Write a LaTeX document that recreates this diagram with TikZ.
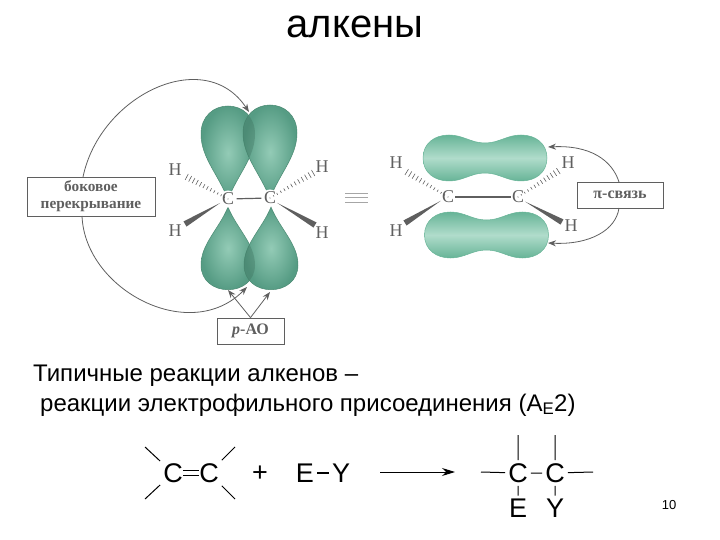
\documentclass[tikz,border=0pt]{standalone}
\usepackage{fontspec}
\setmainfont{Liberation Sans}
\newfontfamily\bookfont{Liberation Serif}
\usetikzlibrary{calc,arrows.meta}
\newcommand{\lobepath}{(0,0) .. controls (-9,-25) and (-27,-42) .. (-27,-66) .. controls (-27,-84) and (-14,-94) .. (0,-94) .. controls (14,-94) and (27,-84) .. (27,-66) .. controls (27,-42) and (9,-25) .. (0,0) -- cycle}
\newcommand{\barpath}{(-62,0) .. controls (-62,-15) and (-50,-23) .. (-36,-23) .. controls (-22,-23) and (-14,-15) .. (0,-15) .. controls (14,-15) and (22,-23) .. (36,-23) .. controls (50,-23) and (62,-15) .. (62,0) .. controls (62,15) and (50,23) .. (36,23) .. controls (22,23) and (14,15) .. (0,15) .. controls (-14,15) and (-22,23) .. (-36,23) .. controls (-50,23) and (-62,15) .. (-62,0) -- cycle}
\definecolor{orbdark}{HTML}{569C84}
\definecolor{orblight}{HTML}{93CBB6}
\definecolor{orbline}{HTML}{4A8A72}
\definecolor{bardark}{HTML}{67B497}
\definecolor{barlight}{HTML}{B0DCCB}
\definecolor{bookgray}{HTML}{5F5F5F}
\tikzset{
  lobe/.style={draw=orbline,line width=0.5pt,inner color=orblight,outer color=orbdark},
  orbbar/.style={draw=bardark,line width=0.5pt,top color=bardark,bottom color=bardark,middle color=barlight},
  overlap/.style={fill=orbline!80!black,opacity=0.35},
  atom/.style={font=\bookfont\fontsize{18}{18}\selectfont,text=bookgray,inner sep=1pt},
  label/.style={draw=bookgray,line width=0.8pt,fill=white,align=center,text=bookgray,font=\bookfont\bfseries\fontsize{15.3}{17}\selectfont},
  book/.style={draw=bookgray,line width=0.8pt},
  bookarrow/.style={book,-{Stealth[length=8pt,width=6pt]}},
  wedge/.style={fill=bookgray},
  sym/.style={font=\fontsize{27}{27}\selectfont,inner sep=3pt},
  bond/.style={draw=black,line width=1pt}
}
\newcommand{\hashbond}[2]{\foreach \t in {0,0.08,...,1.01}{\pgfmathsetmacro{\w}{0.5+3*\t}\draw[bookgray,line width=0.6pt] ($(#1)!\t!(#2)!\w pt!90:(#2)$) -- ($(#1)!\t!(#2)!\w pt!-90:(#2)$);}}
\newcommand{\wedgebond}[2]{\fill[wedge] (#1) -- ($(#2)!3pt!90:(#1)$) -- ($(#2)!3pt!-90:(#1)$) -- cycle;}
\begin{document}
\begin{tikzpicture}[x=1pt,y=-1pt]
  \useasboundingbox (0,0) rectangle (720,540);
  \node[font=\fontsize{40}{40}\selectfont] (title) at (355,27) {алкены};
  % p orbitals
  \path[lobe,shift={(228,200)}] \lobepath;
  \path[lobe,shift={(270,199)}] \lobepath;
  \path[lobe,shift={(228,207)},yscale=-0.88] \lobepath;
  \path[lobe,shift={(271,207)},yscale=-0.88] \lobepath;
  \begin{scope}
    \clip[shift={(228,200)}] \lobepath;
    \fill[overlap,shift={(270,199)}] \lobepath;
  \end{scope}
  \begin{scope}
    \clip[shift={(228,207)},yscale=-0.88] \lobepath;
    \fill[overlap,shift={(271,207)},yscale=-0.88] \lobepath;
  \end{scope}
  \node[atom,fill=white,circle,inner sep=0pt] (C1) at (228,199) {C};
  \node[atom,fill=white,circle,inner sep=0pt] (C2) at (270,198) {C};
  \node[atom] (H1) at (175,170) {H};
  \node[atom] (H2) at (322,167) {H};
  \node[atom] (H3) at (175,231) {H};
  \node[atom] (H4) at (322,233) {H};
  \draw[book,line width=1.2pt] (C1) -- (C2);
  \coordinate (a1) at (185,176);
  \coordinate (a2) at (315,172);
  \coordinate (a3) at (185,224);
  \coordinate (a4) at (315,225);
  \hashbond{C1}{a1}
  \hashbond{C2}{a2}
  \wedgebond{C1}{a3}
  \wedgebond{C2}{a4}
  \coordinate (t1) at (249,112);
  \coordinate (t2) at (247,287);
  \coordinate (t3) at (228,290);
  \coordinate (t4) at (270,292);
  \node[label,minimum width=128pt,minimum height=39pt] (side) at (91,196.5) {боковое\\перекрывание};
  \node[label,minimum width=67pt,minimum height=26pt,font=\bookfont\bfseries\fontsize{16}{16}\selectfont] (pao) at (250.5,331) {\textit{p}-АО};
  \draw[bookarrow] (83,177) .. controls (100,95) and (205,45) .. (t1);
  \draw[bookarrow] (82,216) .. controls (85,290) and (190,345) .. (t2);
  \draw[bookarrow] (pao.north) -- (t3);
  \draw[bookarrow] (pao.north) -- (t4);
  % equals
  \foreach \y in {193,197.5,202}{\draw[gray!70,line width=0.8pt] (345,\y) -- (368,\y);}
  % pi bond
  \path[orbbar,shift={(485,158)}] \barpath;
  \path[orbbar,shift={(486.5,235)}] \barpath;
  \node[atom] (C3) at (448,197) {C};
  \node[atom] (C4) at (518,197) {C};
  \node[atom] (H5) at (396,163) {H};
  \node[atom] (H6) at (568,163) {H};
  \node[atom] (H7) at (396,231) {H};
  \node[atom] (H8) at (571,226) {H};
  \draw[book,line width=1.2pt] (C3) -- (C4);
  \coordinate (a5) at (405,171);
  \coordinate (a6) at (560,170);
  \coordinate (a7) at (405,223);
  \coordinate (a8) at (562,222);
  \hashbond{C3}{a5}
  \hashbond{C4}{a6}
  \wedgebond{C3}{a7}
  \wedgebond{C4}{a8}
  \node[label,minimum width=86pt,minimum height=26pt,font=\bookfont\bfseries\fontsize{16}{16}\selectfont] (pi) at (620,195) {π-связь};
  \coordinate (t5) at (548,147);
  \coordinate (t6) at (548,243);
  \draw[bookarrow] (619,182) .. controls (612,160) and (590,145) .. (t5);
  \draw[bookarrow] (619,208) .. controls (616,230) and (590,245) .. (t6);
  % text
  \node[anchor=west,inner sep=0pt,font=\fontsize{24}{24}\selectfont] (line1) at (33,376) {Типичные реакции алкенов –};
  \node[anchor=west,inner sep=0pt,font=\fontsize{24}{24}\selectfont] (line2) at (40,405) {реакции электрофильного присоединения (A\textsubscript{E}2)};
  % reaction
  \node[sym] (C5) at (173,473) {C};
  \node[sym] (C6) at (209,473) {C};
  \draw[bond,double,double distance=3.5pt,shorten <=-3pt,shorten >=-3pt] (C5) -- (C6);
  \coordinate (e1) at (145,447);
  \coordinate (e2) at (145,499);
  \coordinate (e3) at (235,447);
  \coordinate (e4) at (235,499);
  \draw[bond] (C5) -- (e1) (C5) -- (e2) (C6) -- (e3) (C6) -- (e4);
  \node[sym] (plus) at (260,474) {+};
  \node[sym] (E1) at (305,473) {E};
  \node[sym] (Y1) at (341,473) {Y};
  \draw[bond,line width=1.4pt] (E1) -- (Y1);
  \coordinate (r1) at (380,472);
  \coordinate (r2) at (455,472);
  \draw[bond,-{Stealth[length=13pt,width=8pt]}] (r1) -- (r2);
  \node[sym] (C7) at (518,473) {C};
  \node[sym] (C8) at (555,473) {C};
  \node[sym] (E2) at (518,508) {E};
  \node[sym] (Y2) at (555,508) {Y};
  \coordinate (p1) at (518,435);
  \coordinate (p2) at (555,435);
  \coordinate (p3) at (481,472);
  \coordinate (p4) at (593,472);
  \draw[bond] (C7) -- (p1) (C8) -- (p2) (C7) -- (p3) (C8) -- (p4) (C7) -- (C8) (C7) -- (E2) (C8) -- (Y2);
  \node[font=\fontsize{13}{13}\selectfont] (page) at (669,505) {10};
\end{tikzpicture}
\end{document}
